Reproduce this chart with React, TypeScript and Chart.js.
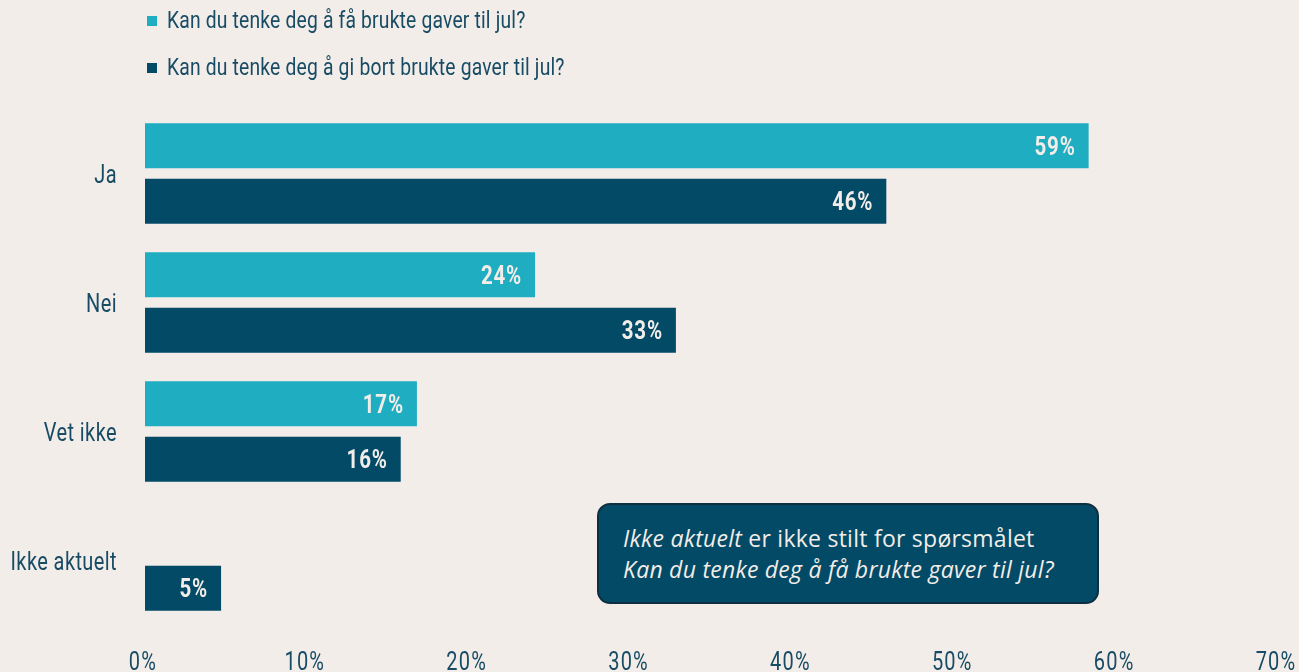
import React, { useEffect, useRef } from "react";
import { Chart, registerables } from "chart.js";

Chart.register(...registerables);

const categories = ["Ja", "Nei", "Vet ikke", "Ikke aktuelt"];
const seriesNames = ["Kan du tenke deg å få brukte gaver til jul?", "Kan du tenke deg å gi bort brukte gaver til jul?"];
const receiveValues: (number | null)[] = [58.3, 24.1, 16.8, null];
const giveValues: (number | null)[] = [45.8, 32.8, 15.8, 4.7];
const receiveLabels = ["59%", "24%", "17%", ""];
const giveLabels = ["46%", "33%", "16%", "5%"];
const xTicks = [0, 10, 20, 30, 40, 50, 60, 70];

const LIGHT = "#1eadc1";
const DARK = "#034a66";
const BG = "#f2ede9";
const TEXT = "#184b64";
const FONT = 'Roboto, "Noto Sans", sans-serif';

function drawNarrow(ctx: CanvasRenderingContext2D, txt: string, x: number, y: number, sx: number, font: string, color: string, align: CanvasTextAlign, baseline: CanvasTextBaseline, spacing = 0) {
  ctx.save();
  ctx.font = font;
  ctx.fillStyle = color;
  ctx.textAlign = align;
  ctx.textBaseline = baseline;
  (ctx as any).letterSpacing = spacing + "px";
  ctx.translate(x, y);
  ctx.scale(sx, 1);
  ctx.fillText(txt, 0, 0);
  ctx.restore();
}

const labelPlugin = {
  id: "narrowLabels",
  afterDraw(chart: any) {
    const ctx = chart.ctx as CanvasRenderingContext2D;
    const all = [receiveLabels, giveLabels];
    chart.data.datasets.forEach((ds: any, di: number) => {
      const meta = chart.getDatasetMeta(di);
      meta.data.forEach((bar: any, i: number) => {
        const txt = all[di][i];
        if (!txt || ds.data[i] == null) return;
        drawNarrow(ctx, txt, bar.x - 13, bar.y + 3, 0.82, `bold 25px ${FONT}`, "#f2ede9", "right", "middle", 1);
      });
    });
    const yScale = chart.scales.y;
    categories.forEach((c, i) => {
      drawNarrow(ctx, c, 117, yScale.getPixelForValue(i) + 3, 0.8, `25px ${FONT}`, TEXT, "right", "middle", 0.5);
    });
    const xScale = chart.scales.x;
    xTicks.forEach((v) => {
      drawNarrow(ctx, v + "%", xScale.getPixelForValue(v) - 2, 670, 0.8, `25px ${FONT}`, TEXT, "center", "alphabetic", 1.5);
    });
  },
};

export default function App() {
  const ref = useRef<HTMLCanvasElement>(null);
  useEffect(() => {
    document.body.style.margin = "0";
    document.body.style.background = BG;
    const chart = new Chart(ref.current!, {
      type: "bar",
      data: {
        labels: categories,
        datasets: [
          { label: seriesNames[0], data: receiveValues, backgroundColor: LIGHT, categoryPercentage: 0.86, barPercentage: 0.81 },
          { label: seriesNames[1], data: giveValues, backgroundColor: DARK, categoryPercentage: 0.86, barPercentage: 0.81 },
        ],
      },
      options: {
        indexAxis: "y",
        animation: false,
        responsive: false,
        maintainAspectRatio: false,
        layout: { padding: { top: 109, right: 21, bottom: 0, left: 0 } },
        plugins: { legend: { display: false }, tooltip: { enabled: false } },
        scales: {
          x: {
            min: 0,
            max: 70,
            grid: { display: false },
            border: { display: false },
            afterFit: (s: any) => { s.height = 47; },
            ticks: { display: false, stepSize: 10 },
          },
          y: {
            grid: { display: false },
            border: { display: false },
            afterFit: (s: any) => { s.width = 145; },
            ticks: { display: false },
          },
        },
      },
      plugins: [labelPlugin],
    });
    return () => chart.destroy();
  }, []);

  const legendItem = (color: string, text: string, top: number) => (
    <div style={{ position: "absolute", left: 147, top, height: 30, display: "flex", alignItems: "center" }}>
      <span style={{ width: 10, height: 10, background: color, display: "inline-block", marginRight: 10, marginTop: 2 }} />
      <span style={{ fontFamily: FONT, fontSize: 23, color: TEXT, transform: "scaleX(0.84)", transformOrigin: "left center", whiteSpace: "nowrap", display: "inline-block", letterSpacing: 0.2 }}>{text}</span>
    </div>
  );

  return (
    <div style={{ position: "fixed", left: 0, top: 0, width: 1299, height: 672, background: BG, overflow: "hidden" }}>
      <canvas ref={ref} width={1299} height={672} style={{ position: "absolute", left: 0, top: 0 }} />
      {legendItem(LIGHT, seriesNames[0], 5)}
      {legendItem(DARK, seriesNames[1], 52)}
      <div style={{ position: "absolute", left: 597, top: 503, width: 498, height: 97, background: DARK, border: "2px solid #0e2f40", borderRadius: 13, boxSizing: "content-box", color: "#f2ede9", fontFamily: '"Open Sans", "Noto Sans", sans-serif', fontSize: 23, lineHeight: "31px", letterSpacing: 0.25 }}>
        <div style={{ position: "absolute", left: 24, top: 18, whiteSpace: "nowrap" }}>
          <div><i>Ikke aktuelt</i> er ikke stilt for spørsmålet</div>
          <div><i>Kan du tenke deg å få brukte gaver til jul?</i></div>
        </div>
      </div>
    </div>
  );
}
